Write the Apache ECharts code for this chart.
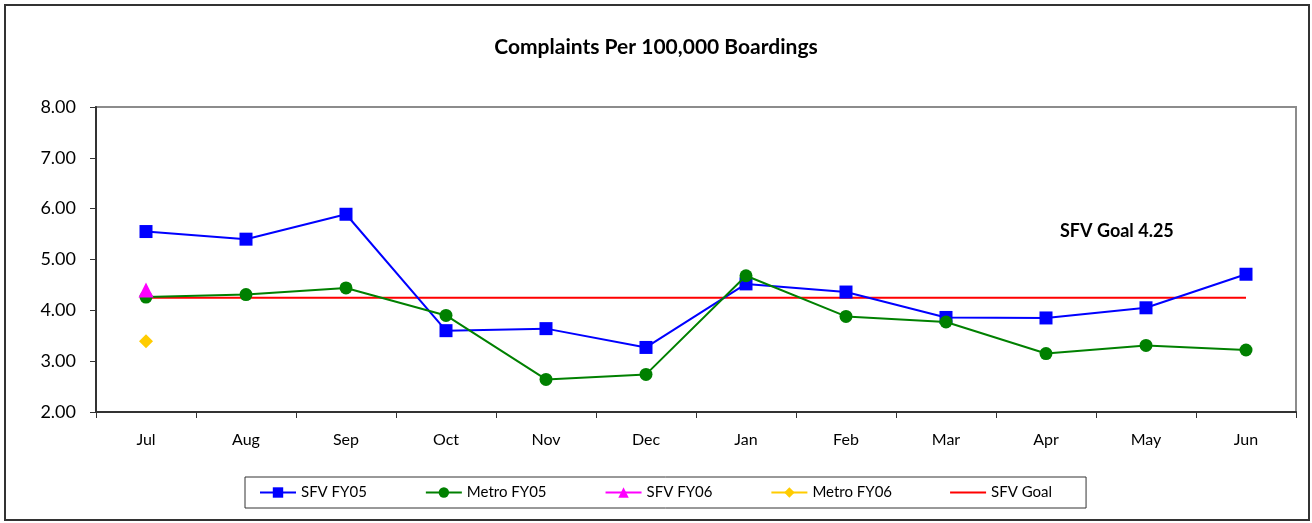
<!DOCTYPE html>
<html>
<head>
<meta charset="utf-8">
<script src="https://cdn.jsdelivr.net/npm/echarts@6/dist/echarts.min.js"></script>
<style>
  html, body { margin: 0; padding: 0; background: #fff; }
  #chart { width: 1312px; height: 523px; }
</style>
</head>
<body>
<div id="chart"></div>
<script>
const months = ['Jul', 'Aug', 'Sep', 'Oct', 'Nov', 'Dec', 'Jan', 'Feb', 'Mar', 'Apr', 'May', 'Jun'];
const sfvFY05 = [5.55, 5.40, 5.89, 3.60, 3.64, 3.27, 4.52, 4.36, 3.86, 3.85, 4.05, 4.71];
const metroFY05 = [4.26, 4.31, 4.44, 3.90, 2.64, 2.74, 4.68, 3.88, 3.77, 3.15, 3.31, 3.22];
const sfvFY06 = [4.40, null, null, null, null, null, null, null, null, null, null, null];
const metroFY06 = [3.39, null, null, null, null, null, null, null, null, null, null, null];
const goalValue = 4.25;
const sfvGoal = months.map(() => goalValue);
const yTicks = { min: 2, max: 8, step: 1 };

const font = 'Lato, "Open Sans", sans-serif';
const chart = echarts.init(document.getElementById('chart'));

const opts = {
  backgroundColor: '#ffffff',
  animation: false,
  textStyle: { fontFamily: font, color: '#000' },
  title: {
    text: 'Complaints Per 100,000 Boardings',
    left: 'center',
    top: 32,
    textStyle: { fontFamily: font, fontSize: 21, fontWeight: 'bold', color: '#000' },
  },
  grid: {
    left: 96,
    right: 16,
    top: 107,
    bottom: 111,
    show: true,
    borderColor: '#8c8c8c',
    borderWidth: 2,
  },
  legend: {
    left: 245,
    bottom: 15,
    padding: [8, 34, 8, 14],
    itemGap: 58,
    itemWidth: 36,
    itemHeight: 13,
    backgroundColor: '#fff',
    borderColor: '#333',
    borderWidth: 1,
    textStyle: { fontFamily: font, fontSize: 15, color: '#000' },
    data: [
      'SFV FY05',
      'Metro FY05',
      'SFV FY06',
      'Metro FY06',
      { name: 'SFV Goal', icon: 'path://M0,0 L36,0 L36,2 L0,2 Z' },
    ],
  },
  xAxis: {
    type: 'category',
    data: months,
    boundaryGap: true,
    axisLine: { lineStyle: { color: '#333', width: 2 } },
    axisTick: { show: true, interval: 0, length: 6, lineStyle: { color: '#333' } },
    axisLabel: { interval: 0, margin: 20, fontSize: 16, color: '#000', fontFamily: font },
    splitLine: { show: false },
  },
  yAxis: {
    type: 'value',
    min: yTicks.min,
    max: yTicks.max,
    interval: yTicks.step,
    axisLine: { show: true, lineStyle: { color: '#333', width: 2 } },
    axisTick: { show: true, length: 6, lineStyle: { color: '#333' } },
    axisLabel: {
      margin: 20,
      fontSize: 18,
      color: '#000',
      fontFamily: font,
      formatter: (v) => v.toFixed(2),
    },
    splitLine: { show: false },
  },
  series: [
    {
      name: 'SFV Goal',
      type: 'line',
      data: sfvGoal,
      symbol: 'none',
      lineStyle: { color: '#ff0000', width: 2 },
      itemStyle: { color: '#ff0000' },
      z: 1,
    },
    {
      name: 'SFV FY05',
      type: 'line',
      data: sfvFY05,
      symbol: 'rect',
      symbolSize: 13,
      lineStyle: { color: '#0000ff', width: 2 },
      itemStyle: { color: '#0000ff' },
      z: 2,
    },
    {
      name: 'Metro FY05',
      type: 'line',
      data: metroFY05,
      symbol: 'circle',
      symbolSize: 13,
      lineStyle: { color: '#008000', width: 2 },
      itemStyle: { color: '#008000' },
      z: 3,
    },
    {
      name: 'SFV FY06',
      type: 'line',
      data: sfvFY06,
      symbol: 'triangle',
      symbolSize: 15,
      lineStyle: { color: '#ff00ff', width: 2 },
      itemStyle: { color: '#ff00ff' },
      z: 4,
    },
    {
      name: 'Metro FY06',
      type: 'line',
      data: metroFY06,
      symbol: 'diamond',
      symbolSize: 14,
      lineStyle: { color: '#ffcc00', width: 2 },
      itemStyle: { color: '#ffcc00' },
      z: 4,
    },
  ],
  graphic: [
    {
      type: 'rect',
      shape: { x: 5, y: 5, width: 1304, height: 515 },
      style: { fill: 'none', stroke: '#333', lineWidth: 2 },
      silent: true,
    },
    {
      type: 'text',
      left: 1060,
      top: 222,
      style: {
        text: 'SFV Goal 4.25',
        font: 'bold 18px ' + font,
        fill: '#000',
      },
    },
  ],
};

chart.setOption(opts);
</script>
</body>
</html>
